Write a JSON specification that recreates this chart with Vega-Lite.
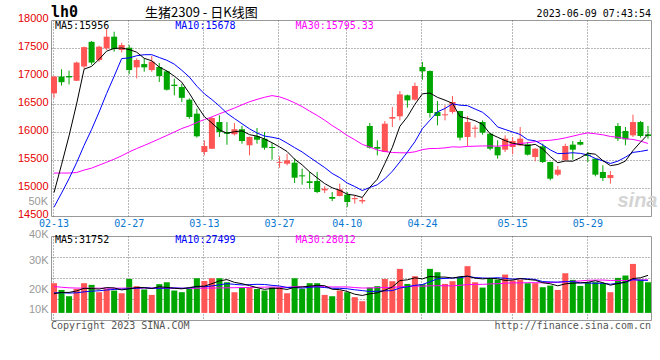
{
  "$schema": "https://vega.github.io/schema/vega-lite/v6.json",
  "autosize": {"type": "pad"},
  "padding": {"left": 16, "top": 4, "right": 0, "bottom": 0},
  "background": "white",
  "data": {"values": [
    {"d":"02-13","o":16690,"h":17000,"l":16610,"c":16990,"v":25100,"m5":14918,"m10":14659,"m30":15267,"vm5":16220,"vm10":16910,"vm30":22300},
    {"d":"02-14","o":16990,"h":17120,"l":16830,"c":16890,"v":19400,"m5":15416,"m10":14908,"m30":15267,"vm5":17300,"vm10":17090,"vm30":21700},
    {"d":"02-15","o":17000,"h":17095,"l":16850,"c":16975,"v":14100,"m5":15931,"m10":15166,"m30":15267,"vm5":17320,"vm10":16740,"vm30":21200},
    {"d":"02-16","o":16915,"h":17255,"l":16910,"c":17240,"v":20300,"m5":16499,"m10":15450,"m30":15276,"vm5":18580,"vm10":17010,"vm30":21000},
    {"d":"02-17","o":17170,"h":17525,"l":17130,"c":17515,"v":25100,"m5":17122,"m10":15761,"m30":15320,"vm5":20800,"vm10":17760,"vm30":20900},
    {"d":"02-20","o":17610,"h":17625,"l":17200,"c":17240,"v":23700,"m5":17172,"m10":16045,"m30":15355,"vm5":20520,"vm10":18370,"vm30":20900},
    {"d":"02-21","o":17285,"h":17541,"l":17255,"c":17523,"v":17500,"m5":17299,"m10":16357,"m30":15408,"vm5":20140,"vm10":18720,"vm30":20900},
    {"d":"02-22","o":17493,"h":17840,"l":17464,"c":17702,"v":20300,"m5":17444,"m10":16688,"m30":15460,"vm5":21380,"vm10":19350,"vm30":20900},
    {"d":"02-23","o":17702,"h":17791,"l":17434,"c":17481,"v":18900,"m5":17492,"m10":16996,"m30":15515,"vm5":21100,"vm10":19840,"vm30":20900},
    {"d":"02-24","o":17464,"h":17595,"l":17422,"c":17553,"v":16600,"m5":17500,"m10":17311,"m30":15575,"vm5":19400,"vm10":20100,"vm30":20900},
    {"d":"02-27","o":17505,"h":17553,"l":17034,"c":17106,"v":28700,"m5":17473,"m10":17323,"m30":15645,"vm5":20400,"vm10":20460,"vm30":21000},
    {"d":"02-28","o":17154,"h":17315,"l":16957,"c":17285,"v":22600,"m5":17425,"m10":17362,"m30":15705,"vm5":21420,"vm10":20780,"vm30":21000},
    {"d":"03-01","o":17213,"h":17315,"l":17076,"c":17154,"v":19800,"m5":17316,"m10":17380,"m30":15760,"vm5":21320,"vm10":21350,"vm30":21000},
    {"d":"03-02","o":17106,"h":17360,"l":17076,"c":17255,"v":15200,"m5":17271,"m10":17381,"m30":15818,"vm5":20580,"vm10":20840,"vm30":21000},
    {"d":"03-03","o":17161,"h":17232,"l":16893,"c":17000,"v":24300,"m5":17160,"m10":17330,"m30":15878,"vm5":22120,"vm10":20760,"vm30":21000},
    {"d":"03-06","o":17084,"h":17100,"l":16740,"c":16755,"v":25900,"m5":17090,"m10":17281,"m30":15938,"vm5":21560,"vm10":20980,"vm30":20900},
    {"d":"03-07","o":16845,"h":16952,"l":16655,"c":16821,"v":18900,"m5":16997,"m10":17211,"m30":16000,"vm5":20820,"vm10":21120,"vm30":20900},
    {"d":"03-08","o":16803,"h":16860,"l":16535,"c":16610,"v":17500,"m5":16888,"m10":17102,"m30":16062,"vm5":20360,"vm10":20840,"vm30":20800},
    {"d":"03-09","o":16577,"h":16600,"l":16237,"c":16268,"v":20300,"m5":16691,"m10":16981,"m30":16110,"vm5":21380,"vm10":20980,"vm30":20800},
    {"d":"03-10","o":16327,"h":16416,"l":15900,"c":15923,"v":29300,"m5":16475,"m10":16818,"m30":16170,"vm5":22380,"vm10":22250,"vm30":20800},
    {"d":"03-13","o":15643,"h":15851,"l":15584,"c":15750,"v":27000,"m5":16274,"m10":16682,"m30":16222,"vm5":22600,"vm10":22080,"vm30":20900},
    {"d":"03-14","o":15702,"h":16268,"l":15700,"c":16250,"v":29300,"m5":16160,"m10":16579,"m30":16270,"vm5":24680,"vm10":22750,"vm30":21000},
    {"d":"03-15","o":16178,"h":16298,"l":15910,"c":16000,"v":29300,"m5":16038,"m10":16463,"m30":16325,"vm5":27040,"vm10":23700,"vm30":21100},
    {"d":"03-16","o":16000,"h":16178,"l":15773,"c":15970,"v":25900,"m5":15979,"m10":16335,"m30":16375,"vm5":28160,"vm10":24770,"vm30":21200},
    {"d":"03-17","o":15959,"h":16160,"l":15940,"c":16048,"v":17500,"m5":16004,"m10":16240,"m30":16428,"vm5":25800,"vm10":24090,"vm30":21300},
    {"d":"03-20","o":16048,"h":16110,"l":15791,"c":15839,"v":21400,"m5":16021,"m10":16148,"m30":16485,"vm5":24680,"vm10":23640,"vm30":21400},
    {"d":"03-21","o":15762,"h":15920,"l":15584,"c":15910,"v":21400,"m5":15953,"m10":16057,"m30":16540,"vm5":23100,"vm10":23890,"vm30":21500},
    {"d":"03-22","o":15923,"h":16071,"l":15791,"c":15862,"v":20300,"m5":15926,"m10":15982,"m30":16582,"vm5":21300,"vm10":24170,"vm30":21600},
    {"d":"03-23","o":15880,"h":16000,"l":15684,"c":15720,"v":18900,"m5":15876,"m10":15927,"m30":16620,"vm5":19900,"vm10":24030,"vm30":21800},
    {"d":"03-24","o":15732,"h":15803,"l":15505,"c":15714,"v":21700,"m5":15809,"m10":15906,"m30":16650,"vm5":20740,"vm10":23270,"vm30":21870},
    {"d":"03-27","o":15450,"h":15566,"l":15362,"c":15465,"v":21700,"m5":15734,"m10":15878,"m30":16627,"vm5":20800,"vm10":22740,"vm30":21760},
    {"d":"03-28","o":15434,"h":15612,"l":15405,"c":15494,"v":16600,"m5":15651,"m10":15802,"m30":16581,"vm5":19840,"vm10":21470,"vm30":21670},
    {"d":"03-29","o":15452,"h":15523,"l":15089,"c":15184,"v":29300,"m5":15515,"m10":15721,"m30":16521,"vm5":21640,"vm10":21470,"vm30":22170},
    {"d":"03-30","o":15226,"h":15345,"l":15059,"c":15208,"v":20300,"m5":15413,"m10":15644,"m30":16454,"vm5":21920,"vm10":20910,"vm30":22170},
    {"d":"03-31","o":15119,"h":15285,"l":14988,"c":15089,"v":25100,"m5":15288,"m10":15549,"m30":16373,"vm5":22600,"vm10":21670,"vm30":22170},
    {"d":"04-03","o":15125,"h":15285,"l":14910,"c":14928,"v":25100,"m5":15181,"m10":15457,"m30":16296,"vm5":23280,"vm10":22040,"vm30":22220},
    {"d":"04-04","o":14958,"h":15030,"l":14910,"c":14988,"v":15200,"m5":15079,"m10":15365,"m30":16211,"vm5":23000,"vm10":21420,"vm30":22140},
    {"d":"04-06","o":14839,"h":14928,"l":14767,"c":14808,"v":14100,"m5":15004,"m10":15260,"m30":16115,"vm5":19960,"vm10":20800,"vm30":21940},
    {"d":"04-07","o":14857,"h":15077,"l":14850,"c":14976,"v":18900,"m5":14958,"m10":15185,"m30":16031,"vm5":19680,"vm10":20800,"vm30":21940},
    {"d":"04-10","o":14880,"h":14928,"l":14660,"c":14750,"v":17500,"m5":14890,"m10":15089,"m30":15938,"vm5":18160,"vm10":20380,"vm30":21970},
    {"d":"04-11","o":14800,"h":14870,"l":14720,"c":14820,"v":13300,"m5":14870,"m10":15026,"m30":15862,"vm5":15800,"vm10":19540,"vm30":21450},
    {"d":"04-12","o":14760,"h":14830,"l":14720,"c":14785,"v":9900,"m5":14831,"m10":14955,"m30":15779,"vm5":14740,"vm10":18870,"vm30":21030},
    {"d":"04-13","o":16107,"h":16160,"l":15702,"c":15720,"v":21400,"m5":15013,"m10":15009,"m30":15731,"vm5":16200,"vm10":18080,"vm30":21080},
    {"d":"04-14","o":15732,"h":15851,"l":15583,"c":15702,"v":22600,"m5":15158,"m10":15058,"m30":15679,"vm5":16940,"vm10":18310,"vm30":21330},
    {"d":"04-17","o":15643,"h":16196,"l":15640,"c":16148,"v":28700,"m5":15438,"m10":15164,"m30":15651,"vm5":19180,"vm10":18670,"vm30":21480},
    {"d":"04-18","o":16238,"h":16446,"l":16089,"c":16268,"v":26800,"m5":15726,"m10":15298,"m30":15634,"vm5":21880,"vm10":18840,"vm30":21510},
    {"d":"04-19","o":16280,"h":16732,"l":16208,"c":16672,"v":37200,"m5":16102,"m10":15466,"m30":15629,"vm5":27340,"vm10":21040,"vm30":22120},
    {"d":"04-20","o":16655,"h":16667,"l":16434,"c":16565,"v":24500,"m5":16271,"m10":15642,"m30":15628,"vm5":27960,"vm10":22080,"vm30":22350},
    {"d":"04-21","o":16577,"h":16881,"l":16560,"c":16821,"v":31000,"m5":16495,"m10":15827,"m30":15646,"vm5":29640,"vm10":23290,"vm30":22710},
    {"d":"04-24","o":17161,"h":17250,"l":16934,"c":17083,"v":24300,"m5":16682,"m10":16060,"m30":15685,"vm5":28760,"vm10":23970,"vm30":22540},
    {"d":"04-25","o":17089,"h":17101,"l":16256,"c":16339,"v":37200,"m5":16696,"m10":16211,"m30":15705,"vm5":30840,"vm10":26360,"vm30":22880},
    {"d":"04-26","o":16357,"h":16553,"l":16119,"c":16286,"v":34400,"m5":16619,"m10":16360,"m30":15706,"vm5":30280,"vm10":28810,"vm30":23050},
    {"d":"04-27","o":16298,"h":16476,"l":16208,"c":16316,"v":24500,"m5":16569,"m10":16420,"m30":15716,"vm5":30280,"vm10":29120,"vm30":22890},
    {"d":"04-28","o":16357,"h":16643,"l":16327,"c":16536,"v":26800,"m5":16512,"m10":16503,"m30":15735,"vm5":29440,"vm10":29540,"vm30":22920},
    {"d":"05-04","o":16375,"h":16380,"l":15851,"c":15899,"v":30200,"m5":16275,"m10":16479,"m30":15730,"vm5":30620,"vm10":29690,"vm30":23340},
    {"d":"05-05","o":15911,"h":16286,"l":15750,"c":16178,"v":39500,"m5":16243,"m10":16470,"m30":15742,"vm5":31080,"vm10":30960,"vm30":23950},
    {"d":"05-08","o":16059,"h":16119,"l":15899,"c":16077,"v":25900,"m5":16201,"m10":16410,"m30":15747,"vm5":29380,"vm10":29830,"vm30":24100},
    {"d":"05-09","o":16178,"h":16208,"l":15952,"c":15988,"v":21400,"m5":16136,"m10":16352,"m30":15751,"vm5":28760,"vm10":29520,"vm30":24130},
    {"d":"05-10","o":15970,"h":15980,"l":15672,"c":15702,"v":29300,"m5":15969,"m10":16240,"m30":15751,"vm5":29260,"vm10":29350,"vm30":24480},
    {"d":"05-11","o":15732,"h":15851,"l":15524,"c":15583,"v":28200,"m5":15906,"m10":16090,"m30":15746,"vm5":28860,"vm10":29740,"vm30":24700},
    {"d":"05-12","o":15684,"h":15940,"l":15643,"c":15881,"v":32400,"m5":15846,"m10":16045,"m30":15760,"vm5":27440,"vm10":29260,"vm30":25050},
    {"d":"05-15","o":15732,"h":15911,"l":15601,"c":15839,"v":27400,"m5":15799,"m10":16000,"m30":15772,"vm5":27740,"vm10":28560,"vm30":25410},
    {"d":"05-16","o":15762,"h":16089,"l":15750,"c":15881,"v":28200,"m5":15777,"m10":15956,"m30":15795,"vm5":29100,"vm10":28930,"vm30":25380},
    {"d":"05-17","o":15780,"h":15821,"l":15580,"c":15595,"v":25100,"m5":15756,"m10":15862,"m30":15808,"vm5":28260,"vm10":28760,"vm30":25540},
    {"d":"05-18","o":15553,"h":15710,"l":15476,"c":15702,"v":25100,"m5":15780,"m10":15843,"m30":15828,"vm5":27640,"vm10":28250,"vm30":25540},
    {"d":"05-19","o":15744,"h":15791,"l":15446,"c":15464,"v":21700,"m5":15696,"m10":15771,"m30":15846,"vm5":25500,"vm10":26470,"vm30":25420},
    {"d":"05-22","o":15464,"h":15470,"l":15137,"c":15166,"v":23100,"m5":15562,"m10":15680,"m30":15852,"vm5":24640,"vm10":26190,"vm30":25690},
    {"d":"05-23","o":15238,"h":15393,"l":15214,"c":15327,"v":19400,"m5":15451,"m10":15614,"m30":15869,"vm5":22880,"vm10":25990,"vm30":25860},
    {"d":"05-24","o":15494,"h":15791,"l":15490,"c":15750,"v":33500,"m5":15482,"m10":15619,"m30":15895,"vm5":24560,"vm10":26410,"vm30":26350},
    {"d":"05-25","o":15774,"h":15839,"l":15506,"c":15684,"v":27900,"m5":15478,"m10":15629,"m30":15926,"vm5":25120,"vm10":26380,"vm30":26700},
    {"d":"05-26","o":15821,"h":15863,"l":15760,"c":15774,"v":22800,"m5":15540,"m10":15618,"m30":15958,"vm5":25340,"vm10":25420,"vm30":27010},
    {"d":"05-29","o":15595,"h":15643,"l":15464,"c":15571,"v":25900,"m5":15621,"m10":15591,"m30":15984,"vm5":25900,"vm10":25270,"vm30":27550},
    {"d":"05-30","o":15524,"h":15530,"l":15208,"c":15238,"v":25900,"m5":15603,"m10":15527,"m30":15968,"vm5":27200,"vm10":25040,"vm30":27700},
    {"d":"05-31","o":15286,"h":15405,"l":15125,"c":15178,"v":25100,"m5":15489,"m10":15485,"m30":15950,"vm5":25520,"vm10":25040,"vm30":27780},
    {"d":"06-01","o":15178,"h":15304,"l":15077,"c":15232,"v":17500,"m5":15399,"m10":15438,"m30":15920,"vm5":23440,"vm10":24280,"vm30":27410},
    {"d":"06-02","o":16107,"h":16160,"l":15839,"c":15881,"v":29600,"m5":15420,"m10":15480,"m30":15907,"vm5":24800,"vm10":25070,"vm30":27500},
    {"d":"06-05","o":16018,"h":16089,"l":15762,"c":15869,"v":31600,"m5":15480,"m10":15550,"m30":15880,"vm5":25960,"vm10":25930,"vm30":27310},
    {"d":"06-06","o":15940,"h":16309,"l":15911,"c":16178,"v":41400,"m5":15668,"m10":15636,"m30":15867,"vm5":29060,"vm10":28130,"vm30":27880},
    {"d":"06-07","o":16178,"h":16196,"l":15900,"c":15929,"v":28200,"m5":15818,"m10":15653,"m30":15838,"vm5":29680,"vm10":27600,"vm30":27780},
    {"d":"06-08","o":15958,"h":16107,"l":15880,"c":15929,"v":25900,"m5":15956,"m10":15678,"m30":15795,"vm5":31752,"vm10":27499,"vm30":28012}
  ]},
  "config": {
    "view": {"stroke": "#999999", "strokeWidth": 1},
    "axis": {"ticks": false, "domain": false, "gridColor": "#707070", "gridDash": [1, 2], "gridOpacity": 1, "gridWidth": 1, "labelOverlap": false, "labelFont": "DejaVu Sans Mono", "labelFontSize": 10},
    "text": {"font": "DejaVu Sans Mono", "fontSize": 10}
  },
  "spacing": 20,
  "bounds": "flush",
  "vconcat": [
    {
      "width": 600,
      "height": 196,
      "resolve": {"axis": {"y": "independent"}},
      "layer": [
        {
          "mark": {"type": "rule", "strokeWidth": 1},
          "encoding": {
            "x": {"field": "d", "type": "ordinal", "scale": {"paddingInner": 0.2, "paddingOuter": 0},
                  "axis": {"values": ["02-13","02-27","03-13","03-27","04-10","04-24","05-15","05-29"], "bandPosition": 0.4, "labelAngle": 0, "labelOverlap": false, "labelColor": "#0a78d2", "labelPadding": 2, "grid": true, "title": null}},
            "y": {"field": "l", "type": "quantitative", "scale": {"domain": [14500, 18000], "nice": false, "zero": false},
                  "axis": {"values": [15000, 15500, 16000, 16500, 17000, 17500], "labels": false, "grid": true, "title": null}},
            "y2": {"field": "h"},
            "color": {"condition": {"test": "datum.c >= datum.o", "value": "#ff5555"}, "value": "#00a600"}
          }
        },
        {
          "mark": {"type": "bar"},
          "encoding": {
            "x": {"field": "d", "type": "ordinal"},
            "y": {"field": "o", "type": "quantitative", "axis": null},
            "y2": {"field": "c"},
            "color": {"condition": {"test": "datum.c >= datum.o", "value": "#ff5555"}, "value": "#00a600"}
          }
        },
        {
          "mark": {"type": "line", "color": "#ff00ff", "strokeWidth": 1},
          "encoding": {"x": {"field": "d", "type": "ordinal", "bandPosition": 0.5},
                       "y": {"field": "m30", "type": "quantitative",
                             "axis": {"orient": "left", "values": [14500, 15000, 15500, 16000, 16500, 17000, 17500, 18000], "format": "d", "labelOverlap": false, "labelColor": "#e60000", "labelFont": "Liberation Sans", "labelFontSize": 11, "labelPadding": 3, "labelOffset": -2, "grid": false, "title": null}}}
        },
        {
          "mark": {"type": "line", "color": "#0000ff", "strokeWidth": 1},
          "encoding": {"x": {"field": "d", "type": "ordinal", "bandPosition": 0.5}, "y": {"field": "m10", "type": "quantitative", "axis": null}}
        },
        {
          "mark": {"type": "line", "color": "#000000", "strokeWidth": 1},
          "encoding": {"x": {"field": "d", "type": "ordinal", "bandPosition": 0.5}, "y": {"field": "m5", "type": "quantitative", "axis": null}}
        },
        {
          "data": {"values": [{}]},
          "mark": {"type": "text", "text": "MA5:15956", "align": "left", "baseline": "middle", "dx": 4, "color": "#000000"},
          "encoding": {"x": {"datum": "02-13", "type": "ordinal", "bandPosition": 0}, "y": {"datum": 17893, "type": "quantitative", "axis": null}}
        },
        {
          "data": {"values": [{}]},
          "mark": {"type": "text", "text": "MA10:15678", "align": "left", "baseline": "middle", "dx": 4, "color": "#0000ff"},
          "encoding": {"x": {"datum": "03-07", "type": "ordinal", "bandPosition": 0}, "y": {"datum": 17893, "type": "quantitative", "axis": null}}
        },
        {
          "data": {"values": [{}]},
          "mark": {"type": "text", "text": "MA30:15795.33", "align": "left", "baseline": "middle", "dx": 4, "color": "#ff00ff"},
          "encoding": {"x": {"datum": "03-29", "type": "ordinal", "bandPosition": 0}, "y": {"datum": 17893, "type": "quantitative", "axis": null}}
        },
        {
          "data": {"values": [{}]},
          "mark": {"type": "text", "text": "50K", "align": "right", "baseline": "middle", "dx": -3, "font": "Liberation Sans", "fontSize": 11, "color": "#999999"},
          "encoding": {"x": {"datum": "02-13", "type": "ordinal", "bandPosition": 0}, "y": {"datum": 14750, "type": "quantitative", "axis": null}}
        },
        {
          "data": {"values": [{}]},
          "mark": {"type": "text", "text": "lh0", "align": "left", "baseline": "alphabetic", "font": "DejaVu Sans Mono", "fontSize": 15, "fontWeight": "bold", "color": "#000000"},
          "encoding": {"x": {"datum": "02-13", "type": "ordinal", "bandPosition": 0}, "y": {"datum": 18045, "type": "quantitative", "axis": null}}
        },
        {
          "data": {"values": [{}]},
          "mark": {"type": "text", "text": "生猪2309 - 日K线图", "align": "center", "baseline": "alphabetic", "font": "Noto Sans CJK SC", "fontSize": 13, "color": "#000000"},
          "encoding": {"x": {"datum": "03-13", "type": "ordinal", "bandPosition": 0}, "y": {"datum": 18054, "type": "quantitative", "axis": null}}
        },
        {
          "data": {"values": [{}]},
          "mark": {"type": "text", "text": "2023-06-09 07:43:54", "align": "right", "baseline": "alphabetic", "color": "#000000"},
          "encoding": {"x": {"datum": "06-08", "type": "ordinal", "bandPosition": 1}, "y": {"datum": 18054, "type": "quantitative", "axis": null}}
        },
        {
          "data": {"values": [{}]},
          "mark": {"type": "text", "text": "sina", "align": "center", "baseline": "alphabetic", "font": "Liberation Sans", "fontSize": 20, "fontStyle": "italic", "fontWeight": "bold", "color": "#d4d4d4"},
          "encoding": {"x": {"datum": "06-07", "type": "ordinal", "bandPosition": 0}, "y": {"datum": 14660, "type": "quantitative", "axis": null}}
        }
      ]
    },
    {
      "width": 600,
      "height": 84,
      "resolve": {"axis": {"y": "independent"}},
      "layer": [
        {
          "mark": {"type": "bar"},
          "encoding": {
            "x": {"field": "d", "type": "ordinal", "scale": {"paddingInner": 0.2, "paddingOuter": 0},
                  "axis": {"values": ["02-13","02-27","03-13","03-27","04-10","04-24","05-15","05-29"], "bandPosition": 0.4, "labels": false, "grid": true, "title": null}},
            "y": {"field": "v", "type": "quantitative", "scale": {"domain": [-6000, 65000], "nice": false, "zero": false},
                  "axis": {"values": [11750, 29500, 47250], "labels": false, "grid": true, "title": null}},
            "y2": {"datum": 0},
            "color": {"condition": {"test": "datum.c >= datum.o", "value": "#ff5555"}, "value": "#00a600"}
          }
        },
        {
          "mark": {"type": "line", "color": "#ff00ff", "strokeWidth": 1},
          "encoding": {"x": {"field": "d", "type": "ordinal", "bandPosition": 0.5},
                       "y": {"field": "vm30", "type": "quantitative",
                             "axis": {"orient": "left", "values": [65000, 42300, 17700, 800], "labelOverlap": false, "labelExpr": "datum.value > 60000 ? '40K' : datum.value > 30000 ? '30K' : datum.value > 10000 ? '20K' : '10K'", "labelColor": "#999999", "labelFont": "Liberation Sans", "labelFontSize": 11, "labelPadding": 3, "labelOffset": -2, "grid": false, "title": null}}}
        },
        {
          "mark": {"type": "line", "color": "#0000ff", "strokeWidth": 1},
          "encoding": {"x": {"field": "d", "type": "ordinal", "bandPosition": 0.5}, "y": {"field": "vm10", "type": "quantitative", "axis": null}}
        },
        {
          "mark": {"type": "line", "color": "#000000", "strokeWidth": 1},
          "encoding": {"x": {"field": "d", "type": "ordinal", "bandPosition": 0.5}, "y": {"field": "vm5", "type": "quantitative", "axis": null}}
        },
        {
          "data": {"values": [{}]},
          "mark": {"type": "text", "text": "MA5:31752", "align": "left", "baseline": "middle", "dx": 4, "color": "#000000"},
          "encoding": {"x": {"datum": "02-13", "type": "ordinal", "bandPosition": 0}, "y": {"datum": 61200, "type": "quantitative", "axis": null}}
        },
        {
          "data": {"values": [{}]},
          "mark": {"type": "text", "text": "MA10:27499", "align": "left", "baseline": "middle", "dx": 4, "color": "#0000ff"},
          "encoding": {"x": {"datum": "03-07", "type": "ordinal", "bandPosition": 0}, "y": {"datum": 61200, "type": "quantitative", "axis": null}}
        },
        {
          "data": {"values": [{}]},
          "mark": {"type": "text", "text": "MA30:28012", "align": "left", "baseline": "middle", "dx": 4, "color": "#ff00ff"},
          "encoding": {"x": {"datum": "03-29", "type": "ordinal", "bandPosition": 0}, "y": {"datum": 61200, "type": "quantitative", "axis": null}}
        },
        {
          "data": {"values": [{}]},
          "mark": {"type": "text", "text": "Copyright 2023 SINA.COM", "align": "left", "baseline": "middle", "color": "#555555"},
          "encoding": {"x": {"datum": "02-13", "type": "ordinal", "bandPosition": 0}, "y": {"datum": -10650, "type": "quantitative", "axis": null}}
        },
        {
          "data": {"values": [{}]},
          "mark": {"type": "text", "text": "http://finance.sina.com.cn", "align": "right", "baseline": "middle", "color": "#555555"},
          "encoding": {"x": {"datum": "06-08", "type": "ordinal", "bandPosition": 1}, "y": {"datum": -10650, "type": "quantitative", "axis": null}}
        }
      ]
    }
  ]
}
